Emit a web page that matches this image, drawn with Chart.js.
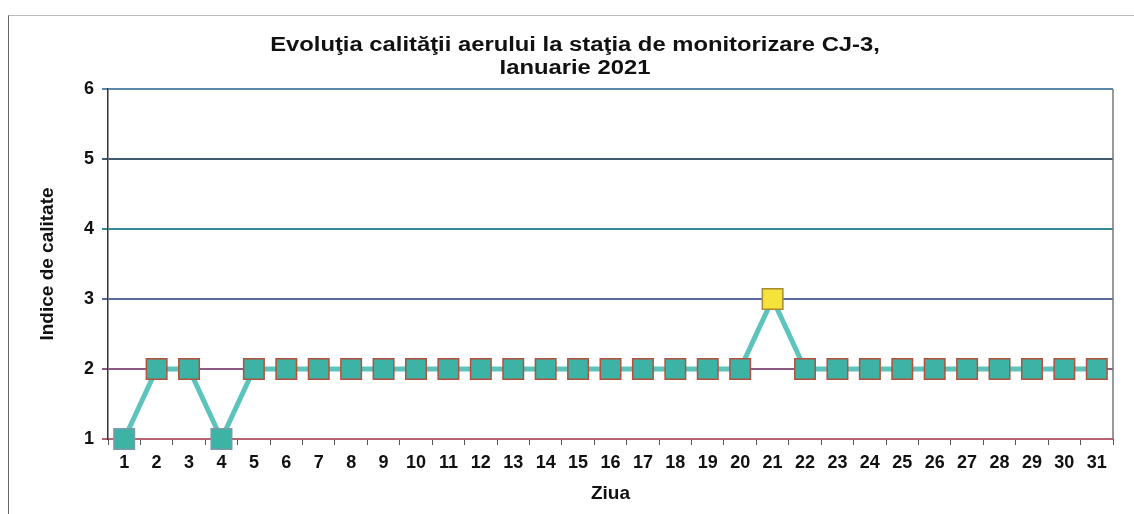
<!DOCTYPE html>
<html><head><meta charset="utf-8">
<script src="https://cdn.jsdelivr.net/npm/chart.js@4"></script>
<style>html,body{margin:0;padding:0;background:#fff}#wrap{position:relative;width:1134px;height:514px}
#frame{position:absolute;left:8px;top:15px;width:1126px;height:499px;border-left:1px solid #666;border-top:1px solid #bbb;box-sizing:border-box;pointer-events:none}
canvas{position:absolute;left:0;top:0}</style>
</head><body><div id="wrap"><canvas id="c" width="1134" height="514"></canvas><div id="frame"></div></div>
<script>
const days = ['1','2','3','4','5','6','7','8','9','10','11','12','13','14','15','16','17','18','19','20','21','22','23','24','25','26','27','28','29','30','31'];
const indexValues = [1,2,2,1,2,2,2,2,2,2,2,2,2,2,2,2,2,2,2,2,3,2,2,2,2,2,2,2,2,2,2];
const yTicks = [1,2,3,4,5,6];
const titleLines = ['Evoluţia calităţii aerului la staţia de monitorizare CJ-3,','Ianuarie 2021'];

const FONT = 'Liberation Sans, Arial, sans-serif';
const fills = indexValues.map(v => v === 3 ? '#f5e23a' : '#3db3a6');
const borders = indexValues.map(v => v === 3 ? '#a88a30' : (v === 1 ? '#7a9aa8' : '#b5503c'));
const gridColors = ['#b86472','#8c5a80','#5a6a9e','#2f8c95','#3f5a6a','#5a88a8'];

const extras = {
  id:'extras',
  afterDraw(chart){
    const {ctx, chartArea:a} = chart;
    ctx.save();ctx.strokeStyle='#777';ctx.lineWidth=1.5;
    ctx.beginPath();ctx.moveTo(a.right,a.top);ctx.lineTo(a.right,a.bottom);ctx.stroke();
    ctx.fillStyle='#111';ctx.font='bold 20px '+FONT;ctx.textAlign='center';ctx.textBaseline='middle';
    const ys=[45,68];
    titleLines.forEach((t,i)=>{ctx.save();ctx.translate(575,ys[i]);ctx.scale(1.19,1);ctx.fillText(t,0,0);ctx.restore();});
    ctx.restore();
  }
};

new Chart(document.getElementById('c'), {
  type:'line',
  data:{labels:days,datasets:[{data:indexValues,borderColor:'#5cc4bc',borderWidth:5,clip:false,
    pointStyle:'rect',pointRadius:14.5,pointHoverRadius:14.5,pointBackgroundColor:fills,pointBorderColor:borders,pointBorderWidth:1.5,tension:0}]},
  options:{responsive:false,animation:false,
    layout:{padding:{left:0,right:21,top:89,bottom:0}},
    plugins:{legend:{display:false},tooltip:{enabled:false},title:{display:false}},
    scales:{
      x:{offset:true,afterFit(s){s.height=75;},
        grid:{offset:true,drawOnChartArea:false,drawTicks:true,tickLength:6,color:'#555'},border:{display:false},
        ticks:{color:'#111',font:{family:FONT,size:18,weight:'bold'},padding:7,maxRotation:0,autoSkip:false},
        title:{display:true,text:'Ziua',color:'#111',font:{family:FONT,size:19,weight:'bold'},padding:{top:4,bottom:9}}},
      y:{min:1,max:6,afterBuildTicks(s){s.ticks=yTicks.map(v=>({value:v}));},afterFit(s){s.width=108;},
        grid:{color:(c)=>gridColors[c.index]||'#4f7590',lineWidth:2,tickLength:6},border:{color:'#333',width:1.5},
        ticks:{color:'#111',font:{family:FONT,size:18,weight:'bold'},padding:8},
        title:{display:true,text:'Indice de calitate',color:'#111',font:{family:FONT,size:19,weight:'bold'},padding:{top:36,bottom:4}}}
    }},
  plugins:[extras]
});
</script></body></html>
